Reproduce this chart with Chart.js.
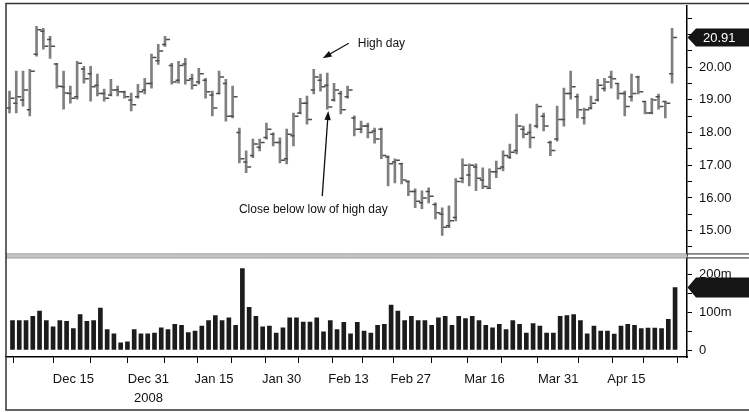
<!DOCTYPE html>
<html>
<head>
<meta charset="utf-8">
<script src="https://cdn.jsdelivr.net/npm/chart.js@4.4.0/dist/chart.umd.min.js"></script>
<style>
  html, body { margin: 0; padding: 0; background: #fff; }
  canvas { display: block; }
</style>
</head>
<body>
<canvas id="chart" width="749" height="412"></canvas>
<script>
// daily bars, oldest first
const opens = [
  18.75, 18.90, 19.00, 18.70, 20.40, 21.10, 20.85, 20.10, 19.40, 19.20,
  19.10, 19.95, 19.80, 19.45, 19.20, 19.15, 19.30, 19.25, 19.00, 19.10,
  19.30, 19.50, 20.20, 20.70, 20.05, 19.60, 20.10, 19.65, 19.55, 19.60,
  19.15, 19.20, 19.50, 18.50, 18.00, 17.10, 17.30, 17.55, 17.85, 17.95,
  17.70, 17.20, 17.90, 18.60, 18.90, 19.30, 19.60, 19.45, 19.00, 19.20,
  19.10, 18.45, 18.10, 18.20, 18.05, 18.10, 17.25, 17.10, 17.05, 16.50,
  16.20, 15.85, 16.20, 15.80, 15.50, 15.15, 15.40, 16.60, 16.70, 16.95,
  16.55, 16.30, 16.80, 16.95, 17.25, 17.45, 18.10, 18.00, 18.20, 18.50,
  17.70, 17.80, 18.40, 19.20, 19.10, 18.45, 18.75, 19.00, 19.35, 19.70,
  19.50, 19.20, 19.10, 19.70, 18.95, 18.60, 19.10, 18.95, 19.80
];
const highs = [
  19.27, 19.88, 19.88, 19.94, 21.25, 21.19, 20.95, 20.12, 19.88, 19.42,
  20.18, 20.03, 20.03, 19.79, 19.33, 19.63, 19.42, 19.27, 19.21, 19.48,
  19.66, 20.40, 20.70, 20.95, 20.12, 20.18, 20.27, 19.79, 19.97, 19.66,
  19.27, 19.88, 19.63, 19.42, 18.14, 17.44, 17.80, 17.80, 18.29, 17.99,
  17.84, 18.11, 18.60, 19.05, 19.12, 19.94, 19.79, 19.82, 19.51, 19.27,
  19.42, 18.51, 18.35, 18.29, 18.14, 18.14, 17.29, 17.20, 17.07, 16.52,
  16.28, 16.22, 16.31, 15.85, 15.70, 15.76, 16.59, 17.20, 17.04, 17.04,
  16.92, 16.89, 17.13, 17.44, 17.65, 18.57, 18.20, 18.26, 18.87, 18.60,
  17.74, 18.81, 19.36, 19.88, 19.18, 18.75, 19.12, 19.63, 19.66, 19.88,
  19.51, 19.27, 19.79, 19.73, 18.96, 19.05, 19.18, 18.96, 21.19
];
const lows = [
  18.60, 18.60, 18.81, 18.51, 20.34, 20.55, 20.27, 19.36, 18.72, 18.90,
  19.02, 19.51, 18.96, 19.12, 18.96, 19.12, 19.12, 19.05, 18.66, 19.05,
  19.18, 19.36, 20.09, 20.64, 19.48, 19.51, 19.48, 19.33, 19.48, 19.05,
  18.51, 19.18, 18.35, 18.45, 17.07, 16.77, 17.23, 17.44, 17.80, 17.59,
  17.07, 17.04, 17.59, 18.57, 18.26, 19.18, 19.27, 18.72, 18.96, 18.57,
  19.05, 17.90, 17.99, 17.84, 17.68, 17.20, 16.37, 16.46, 16.43, 16.07,
  15.70, 15.67, 15.85, 15.36, 14.85, 15.09, 15.30, 16.46, 16.37, 16.22,
  16.28, 16.28, 16.62, 16.83, 17.20, 17.35, 17.84, 17.53, 18.14, 18.05,
  17.29, 17.74, 18.20, 19.02, 18.45, 18.26, 18.72, 18.96, 19.27, 19.36,
  19.02, 18.51, 18.96, 19.18, 18.57, 18.57, 18.72, 18.45, 19.51
];
const closes = [
  19.05, 19.10, 19.30, 19.88, 21.15, 20.64, 20.64, 19.42, 19.21, 19.05,
  20.12, 19.65, 19.40, 19.20, 19.05, 19.30, 19.25, 19.10, 18.85, 19.25,
  19.50, 20.30, 20.50, 20.85, 19.55, 20.05, 19.60, 19.45, 19.80, 19.25,
  18.75, 19.70, 18.50, 19.10, 17.20, 16.95, 17.65, 17.70, 18.10, 17.70,
  17.15, 17.95, 18.50, 18.90, 18.40, 19.70, 19.40, 18.78, 19.30, 18.70,
  19.30, 18.10, 18.20, 18.00, 17.80, 17.30, 17.05, 17.15, 16.55, 16.20,
  15.90, 16.00, 16.05, 15.55, 15.10, 15.30, 16.50, 17.00, 17.00, 16.60,
  16.35, 16.80, 16.90, 17.30, 17.40, 18.20, 17.95, 17.85, 18.80, 18.20,
  17.45, 18.40, 19.20, 19.40, 18.70, 18.70, 18.90, 19.45, 19.55, 19.65,
  19.20, 18.80, 19.20, 19.25, 18.60, 19.00, 18.80, 18.90, 20.91
];
// volume in millions
const volumes = [
  78, 78, 78, 89, 103, 78, 61, 78, 76, 57,
  94, 76, 78, 111, 54, 43, 19, 22, 54, 43,
  43, 45, 59, 54, 68, 65, 46, 50, 63, 78,
  91, 78, 85, 65, 215, 113, 89, 61, 63, 45,
  59, 85, 85, 74, 74, 85, 48, 78, 54, 73,
  43, 73, 50, 45, 65, 68, 119, 103, 78, 89,
  78, 78, 65, 85, 89, 65, 89, 83, 89, 78,
  65, 59, 68, 54, 78, 68, 45, 70, 63, 45,
  45, 89, 91, 94, 78, 43, 63, 50, 50, 42,
  63, 68, 65, 57, 58, 58, 57, 81, 165
];

const xTickPos = [3.4, 9.3, 14.3, 20.4, 25.2, 30.1, 35.3, 40.1, 45.2, 50.0,
                  54.2, 59.2, 65.2, 70.1, 75.0, 81.0, 87.1, 91.1, 96.1];
const xTickLabels = ['', 'Dec 15', '', ['Dec 31', '2008'], '', 'Jan 15', '', 'Jan 30', '', 'Feb 13',
                     '', 'Feb 27', '', 'Mar 16', '', 'Mar 31', '', 'Apr 15', ''];
const priceTicks = [14.5, 15, 15.5, 16, 16.5, 17, 17.5, 18, 18.5, 19, 19.5, 20, 20.5, 21, 21.5];
const volumeTicks = [0, 50, 100, 150, 200];

const highDay = 45;      // bar marked "High day"
const closeBelowDay = 47; // bar whose close is below the high day's low

const FONT = "'Liberation Sans', Arial, sans-serif";
const idx = closes.map((_, i) => i);

function arrow(ctx, x1, y1, x2, y2) {
    const a = Math.atan2(y2 - y1, x2 - x1);
    const len = 9, half = 3.2;
    ctx.beginPath();
    ctx.moveTo(x1, y1);
    ctx.lineTo(x2 - Math.cos(a) * len * 0.7, y2 - Math.sin(a) * len * 0.7);
    ctx.stroke();
    ctx.beginPath();
    ctx.moveTo(x2, y2);
    ctx.lineTo(x2 - Math.cos(a) * len - Math.sin(a) * half, y2 - Math.sin(a) * len + Math.cos(a) * half);
    ctx.lineTo(x2 - Math.cos(a) * len + Math.sin(a) * half, y2 - Math.sin(a) * len - Math.cos(a) * half);
    ctx.closePath();
    ctx.fill();
}

function marker(ctx, area, width, y, h, text) {
    ctx.beginPath();
    ctx.moveTo(area.right + 0.5, y);
    ctx.lineTo(area.right + 9, y - h / 2);
    ctx.lineTo(width, y - h / 2);
    ctx.lineTo(width, y + h / 2);
    ctx.lineTo(area.right + 9, y + h / 2);
    ctx.closePath();
    ctx.fillStyle = '#151515';
    ctx.fill();
    if (text) {
        ctx.fillStyle = '#fff';
        ctx.font = '13px ' + FONT;
        ctx.textAlign = 'left';
        ctx.textBaseline = 'middle';
        ctx.fillText(text, area.right + 16, y + 0.5);
    }
}

const framePlugin = {
    id: 'chartFrame',
    afterDraw(chart) {
        const { ctx, chartArea: area, scales } = chart;
        const W = chart.width;
        const sepY = scales.y.bottom;
        ctx.save();

        // band between price and volume panels
        ctx.fillStyle = '#c4c4c4';
        ctx.fillRect(area.left, sepY - 1, area.right - area.left, 3);
        ctx.strokeStyle = '#8c8c8c';
        ctx.lineWidth = 1;
        ctx.beginPath();
        ctx.moveTo(area.left, sepY - 1.5); ctx.lineTo(area.right, sepY - 1.5);
        ctx.moveTo(area.left, sepY + 2.5); ctx.lineTo(area.right, sepY + 2.5);
        ctx.stroke();
        ctx.strokeStyle = '#222';
        ctx.beginPath();
        ctx.moveTo(area.right, sepY - 1.5); ctx.lineTo(W, sepY - 1.5);
        ctx.moveTo(area.right, sepY + 2.5); ctx.lineTo(W, sepY + 2.5);
        ctx.stroke();

        // outer frame
        ctx.strokeStyle = '#333';
        ctx.lineWidth = 1.5;
        ctx.beginPath();
        ctx.moveTo(W, 3.5);
        ctx.lineTo(area.left + 0.5, 3.5);
        ctx.lineTo(area.left + 0.5, 410);
        ctx.lineTo(W, 410);
        ctx.stroke();

        // last value markers
        const last = closes.length - 1;
        marker(ctx, area, W, scales.y.getPixelForValue(closes[last]), 18, closes[last].toFixed(2));
        marker(ctx, area, W, scales.vol.getPixelForValue(volumes[last]), 20, '');

        // annotations
        ctx.strokeStyle = '#111';
        ctx.fillStyle = '#111';
        ctx.lineWidth = 1.3;
        const hx = scales.x.getPixelForValue(highDay) + 8;
        const hy = scales.y.getPixelForValue(highs[highDay]) - 11;
        arrow(ctx, hx + 26, hy - 15, hx, hy);
        const cx = scales.x.getPixelForValue(closeBelowDay);
        const cy = scales.y.getPixelForValue(closes[closeBelowDay]) + 4;
        arrow(ctx, cx - 6, cy + 85, cx, cy);

        ctx.font = '12px ' + FONT;
        ctx.textBaseline = 'middle';
        ctx.textAlign = 'left';
        ctx.fillText('High day', hx + 35, hy - 15);
        ctx.textAlign = 'center';
        ctx.fillText('Close below low of high day', cx - 15, cy + 99);
        ctx.restore();
    }
};

const tickFont = { family: FONT, size: 13, lineHeight: 1.45 };

// keep the plot edges where the frame is, no room reserved for label overhang
function noPadding(s) {
    s.paddingTop = 0;
    s.paddingBottom = 0;
    s.paddingLeft = 0;
    s.paddingRight = 0;
}

new Chart(document.getElementById('chart'), {
    type: 'bar',
    data: {
        datasets: [
            {
                type: 'scatter',
                data: idx.map(i => ({ x: i, y: opens[i] })),
                yAxisID: 'y',
                pointStyle: 'dash',
                rotation: 180,
                radius: 4,
                borderColor: '#4d4d4d',
                backgroundColor: '#4d4d4d',
                borderWidth: 1.5,
                order: 1
            },
            {
                type: 'scatter',
                data: idx.map(i => ({ x: i, y: closes[i] })),
                yAxisID: 'y',
                pointStyle: 'dash',
                rotation: 0,
                radius: 4,
                borderColor: '#4d4d4d',
                backgroundColor: '#4d4d4d',
                borderWidth: 1.5,
                order: 1
            },
            {
                type: 'bar',
                data: idx.map(i => ({ x: i, y: [lows[i], highs[i]] })),
                yAxisID: 'y',
                backgroundColor: '#808080',
                barThickness: 2,
                order: 2
            },
            {
                type: 'bar',
                data: idx.map(i => ({ x: i, y: volumes[i] })),
                yAxisID: 'vol',
                backgroundColor: '#1c1c1c',
                barThickness: 4,
                order: 3
            }
        ]
    },
    options: {
        responsive: false,
        animation: false,
        events: [],
        layout: { padding: { left: 4, top: 4, right: 0, bottom: 5 } },
        plugins: {
            legend: { display: false },
            tooltip: { enabled: false }
        },
        scales: {
            x: {
                type: 'linear',
                position: 'bottom',
                min: -0.74,
                max: 100.06,
                offset: false,
                grid: { drawOnChartArea: false, color: '#000', tickLength: 6 },
                border: { color: '#000', width: 1.5 },
                afterBuildTicks: s => { s.ticks = xTickPos.map(v => ({ value: v })); },
                afterFit: s => { s.height = 50; noPadding(s); },
                ticks: {
                    autoSkip: false,
                    maxRotation: 0,
                    color: '#111',
                    font: tickFont,
                    padding: 7,
                    callback: (v, i) => xTickLabels[i]
                }
            },
            y: {
                type: 'linear',
                position: 'right',
                stack: 'panels',
                stackWeight: 251,
                min: 14.24,
                max: 21.89,
                grid: { drawOnChartArea: false, color: '#000', tickLength: 5 },
                border: { color: '#000', width: 1.5 },
                afterBuildTicks: s => { s.ticks = priceTicks.map(v => ({ value: v })); },
                afterFit: s => { s.width = 62; noPadding(s); },
                ticks: {
                    autoSkip: false,
                    color: '#111',
                    font: tickFont,
                    padding: 7,
                    callback: v => (Number.isInteger(v) && v <= 20 ? v.toFixed(2) : '')
                }
            },
            vol: {
                type: 'linear',
                position: 'right',
                stack: 'panels',
                stackWeight: 102,
                min: -18.4,
                max: 250,
                grid: { drawOnChartArea: false, color: '#000', tickLength: 5 },
                border: { color: '#000', width: 1.5 },
                afterBuildTicks: s => { s.ticks = volumeTicks.map(v => ({ value: v })); },
                afterFit: s => { s.width = 62; noPadding(s); },
                ticks: {
                    autoSkip: false,
                    color: '#111',
                    font: tickFont,
                    padding: 7,
                    callback: v => (v === 0 ? '0' : v % 100 === 0 ? v + 'm' : '')
                }
            }
        }
    },
    plugins: [framePlugin]
});
</script>
</body>
</html>
